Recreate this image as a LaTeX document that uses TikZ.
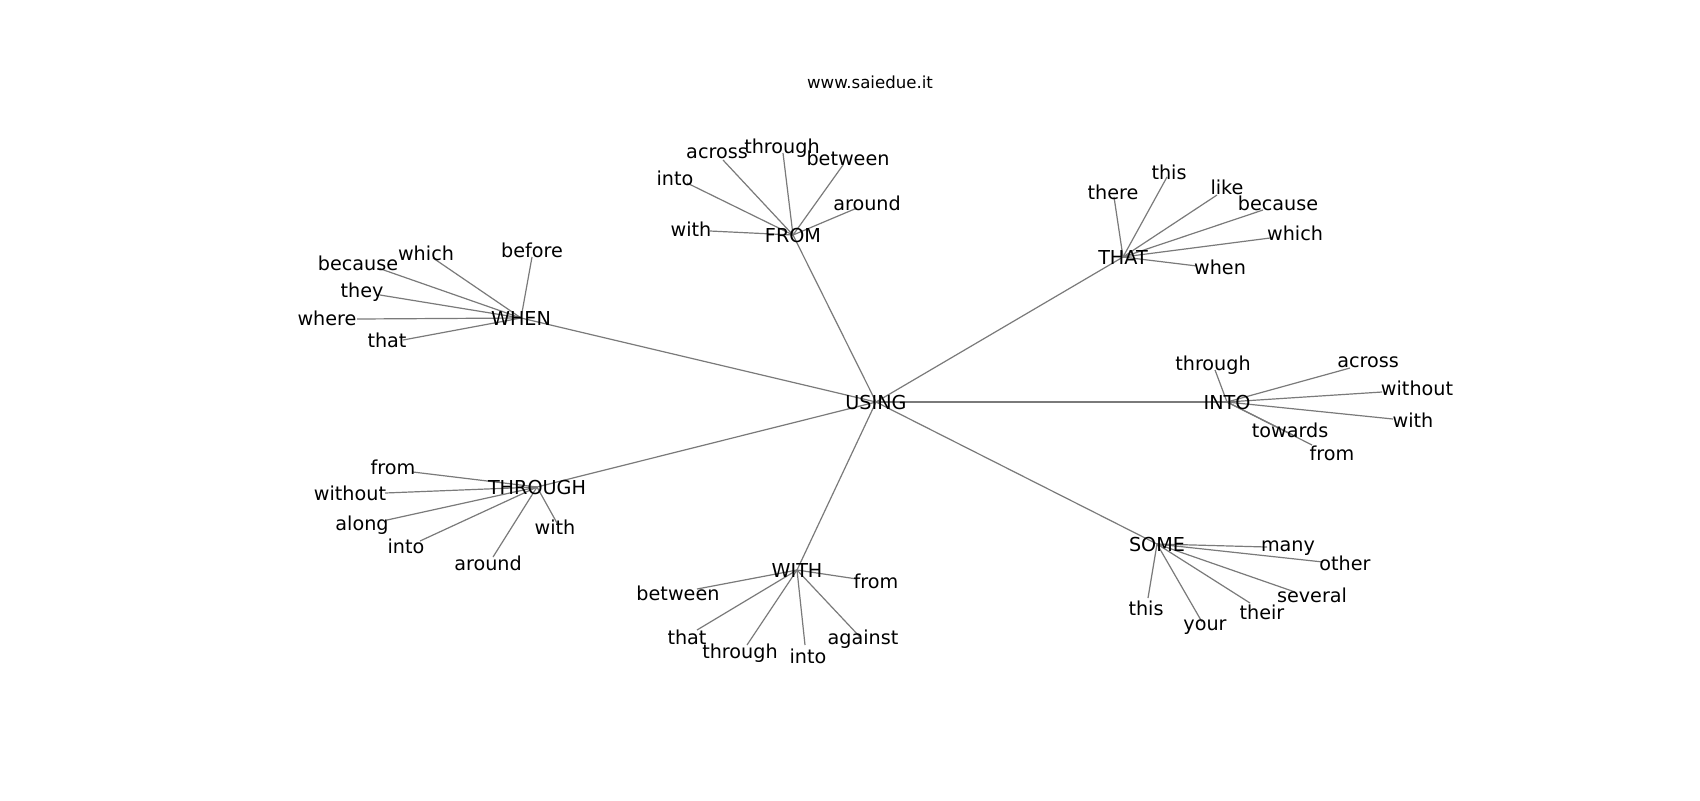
\documentclass[tikz,border=0pt]{standalone}
\usepackage{fontspec}
\setmainfont{DejaVu Sans}
\usetikzlibrary{backgrounds}
\tikzset{
  lbl/.style={inner sep=0pt, font=\fontsize{9.6}{11}\selectfont, text=black},
  hub/.style={lbl},
  titletext/.style={inner sep=0pt, font=\fontsize{8.3}{10}\selectfont},
  edge/.style={draw=black!52, line width=0.6pt}
}
\begin{document}
\begin{tikzpicture}[x=0.5pt,y=-0.5pt]
\useasboundingbox (0,0) rectangle (1700,800);
\node[titletext] (title) at (870,82) {www.saiedue.it};
% hubs
\node[hub] (using) at (876,402) {USING};
\node[hub] (from) at (793,235) {FROM};
\node[hub] (when) at (521,318) {WHEN};
\node[hub] (that) at (1123,257) {THAT};
\node[hub] (into) at (1227,402) {INTO};
\node[hub] (some) at (1157,544) {SOME};
\node[hub] (with) at (797,570) {WITH};
\node[hub] (through) at (537,487) {THROUGH};
% FROM leaves
\coordinate (f1) at (723,160); \node[lbl] (f1l) at (717,153) {across};
\coordinate (f2) at (783,153); \node[lbl] (f2l) at (782,148) {through};
\coordinate (f3) at (687,183); \node[lbl] (f3l) at (675,178) {into};
\coordinate (f4) at (710,231); \node[lbl] (f4l) at (691,229) {with};
\coordinate (f5) at (843,165); \node[lbl] (f5l) at (848,158) {between};
\coordinate (f6) at (857,208); \node[lbl] (f6l) at (867,203) {around};
% WHEN leaves
\coordinate (w1) at (378,268); \node[lbl] (w1l) at (358,263) {because};
\coordinate (w2) at (433,258); \node[lbl] (w2l) at (426,253) {which};
\coordinate (w3) at (532,257); \node[lbl] (w3l) at (532,250) {before};
\coordinate (w4) at (380,295); \node[lbl] (w4l) at (362,292) {they};
\coordinate (w5) at (357,319); \node[lbl] (w5l) at (327,318) {where};
\coordinate (w6) at (403,340); \node[lbl] (w6l) at (387,340) {that};
% THAT leaves
\coordinate (t1) at (1114,197); \node[lbl] (t1l) at (1113,192) {there};
\coordinate (t2) at (1167,177); \node[lbl] (t2l) at (1169,172) {this};
\coordinate (t3) at (1217,195); \node[lbl] (t3l) at (1227,187) {like};
\coordinate (t4) at (1263,210); \node[lbl] (t4l) at (1278,203) {because};
\coordinate (t5) at (1270,238); \node[lbl] (t5l) at (1295,233) {which};
\coordinate (t6) at (1197,266); \node[lbl] (t6l) at (1220,267) {when};
% INTO leaves
\coordinate (i1) at (1215,370); \node[lbl] (i1l) at (1213,365) {through};
\coordinate (i2) at (1350,368); \node[lbl] (i2l) at (1368,362) {across};
\coordinate (i3) at (1382,392); \node[lbl] (i3l) at (1417,388) {without};
\coordinate (i4) at (1393,419); \node[lbl] (i4l) at (1413,420) {with};
\coordinate (i5) at (1293,435); \node[lbl] (i5l) at (1290,430) {towards};
\coordinate (i6) at (1312,445); \node[lbl] (i6l) at (1332,453) {from};
% SOME leaves
\coordinate (s1) at (1267,547); \node[lbl] (s1l) at (1288,548) {many};
\coordinate (s2) at (1323,562); \node[lbl] (s2l) at (1345,563) {other};
\coordinate (s3) at (1295,592); \node[lbl] (s3l) at (1312,595) {several};
\coordinate (s4) at (1250,603); \node[lbl] (s4l) at (1262,612) {their};
\coordinate (s5) at (1202,622); \node[lbl] (s5l) at (1205,627) {your};
\coordinate (s6) at (1148,598); \node[lbl] (s6l) at (1146,608) {this};
% WITH leaves
\coordinate (h1) at (857,579); \node[lbl] (h1l) at (876,581) {from};
\coordinate (h2) at (697,589); \node[lbl] (h2l) at (678,593) {between};
\coordinate (h3) at (697,630); \node[lbl] (h3l) at (687,637) {that};
\coordinate (h4) at (747,645); \node[lbl] (h4l) at (740,653) {through};
\coordinate (h5) at (805,645); \node[lbl] (h5l) at (808,656) {into};
\coordinate (h6) at (860,637); \node[lbl] (h6l) at (863,639) {against};
% THROUGH leaves
\coordinate (r1) at (413,472); \node[lbl] (r1l) at (393,467) {from};
\coordinate (r2) at (385,493); \node[lbl] (r2l) at (350,493) {without};
\coordinate (r3) at (387,520); \node[lbl] (r3l) at (362,525) {along};
\coordinate (r4) at (420,541); \node[lbl] (r4l) at (406,546) {into};
\coordinate (r5) at (493,557); \node[lbl] (r5l) at (488,563) {around};
\coordinate (r6) at (557,523); \node[lbl] (r6l) at (555,527) {with};
\begin{scope}[on background layer]
\fill[white] (0,0) rectangle (1700,800);
\foreach \h in {from,when,that,into,some,with,through}
  \draw[edge] (using.center) -- (\h.center);
\foreach \c in {f1,f2,f3,f4,f5,f6} \draw[edge] (from.center) -- (\c);
\foreach \c in {w1,w2,w3,w4,w5,w6} \draw[edge] (when.center) -- (\c);
\foreach \c in {t1,t2,t3,t4,t5,t6} \draw[edge] (that.center) -- (\c);
\foreach \c in {i1,i2,i3,i4,i5,i6} \draw[edge] (into.center) -- (\c);
\foreach \c in {s1,s2,s3,s4,s5,s6} \draw[edge] (some.center) -- (\c);
\foreach \c in {h1,h2,h3,h4,h5,h6} \draw[edge] (with.center) -- (\c);
\foreach \c in {r1,r2,r3,r4,r5,r6} \draw[edge] (through.center) -- (\c);
\end{scope}
\end{tikzpicture}
\end{document}
